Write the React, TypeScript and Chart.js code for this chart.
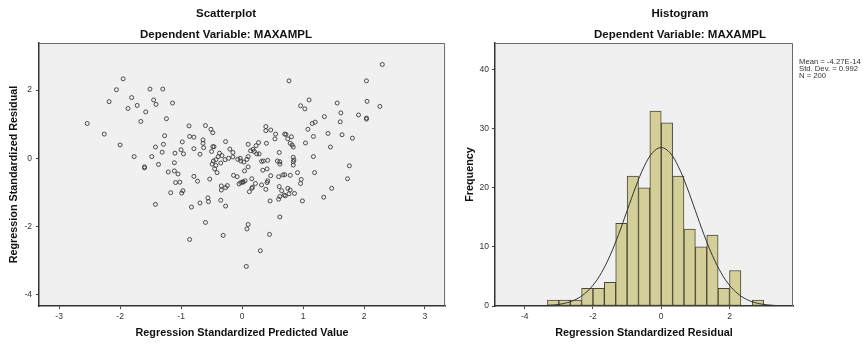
import { useEffect, useRef } from "react";
import { Chart, registerables } from "chart.js";

Chart.register(...registerables);

// ---------- Scatterplot data (Regression Standardized Predicted Value vs Residual) ----------
const scatterPredicted = [
  -1.95, -2.06, -1.51, -1.30, -1.81, -2.18, -1.45, -1.41, -1.14, -1.87,
  -1.72, -1.58, 0.77, 2.30, 2.04, 1.10, 0.96, 1.03, 1.56, 2.05,
  2.26, 1.35, 1.62, 1.91, 2.04, 2.04, -1.24, -1.66, -2.54, -2.26,
  -2.00, -1.77, -1.60, -1.60, -1.42, -1.29, -1.31, -1.27, -1.48, -1.37,
  -1.21, -1.11, -1.11, -1.05, -1.10, -0.98, -1.00, -0.96, -1.09, -1.02,
  -1.17, -0.99, -0.97, -1.42, -0.87, -0.86, -0.79, -0.79, -0.69, -0.64,
  -0.64, -0.60, -0.51, -0.48, -0.48, -0.46, -0.63, -0.50, -0.49, -0.43,
  -0.45, -0.41, -0.37, -0.35, -0.27, -0.20, -0.15, -0.39, -0.33, -0.47,
  -0.43, -0.28, -0.22, -0.79, -0.73, -0.53, -0.34, -0.34, -0.27, -0.24,
  -0.56, -0.55, -0.69, -0.83, -0.35, -0.27, -0.60, -0.86, -0.31, -0.03,
  -0.02, 0.10, 0.14, 0.10, 0.27, 0.23, 0.20, 0.24, 0.28, 0.40,
  0.39, 0.39, 0.47, 0.55, 0.54, 0.70, 0.61, 0.35, 0.42, 0.58,
  0.62, -0.15, -0.07, 0.03, 0.08, 0.18, 0.10, 0.04, 0.01, 0.05,
  0.16, 0.22, 0.12, 0.17, 0.32, 0.39, 0.41, 0.42, 0.34, 0.41,
  0.47, -0.14, -0.08, -0.05, -0.02, 0.02, 0.46, 0.62, 0.10, 0.08,
  0.45, 0.30, 0.07, 0.60, 0.62, 0.69, 0.65, 0.61, 0.60, 0.67,
  0.62, 0.70, 0.79, 0.91, 0.97, 0.96, 0.75, 0.79, 0.71, 0.77,
  0.86, 0.99, 0.84, 0.84, 0.84, 0.85, 0.72, 0.81, 0.75, 0.79,
  0.82, 0.84, 1.20, 1.15, 1.61, 1.08, 1.41, 1.64, 1.81, 1.17,
  1.04, 1.45, 1.17, 1.76, 1.73, 1.47, 1.34, 1.19, 0.16, 0.32,
];
const scatterResidual = [
  2.33, 2.01, 2.03, 2.03, 1.78, 1.66, 1.71, 1.58, 1.62, 1.46,
  1.55, 1.36, 2.27, 2.75, 2.27, 1.71, 1.54, 1.45, 1.62, 1.67,
  1.52, 1.22, 1.33, 1.27, 1.18, 1.15, 1.16, 1.08, 1.02, 0.71,
  0.39, 0.05, -0.25, -0.28, 0.33, 0.41, 0.18, 0.66, 0.05, -0.18,
  -0.40, -0.13, -0.37, -0.46, 0.15, 0.48, 0.25, 0.13, -0.71, -0.70,
  -1.01, -1.02, -0.95, -1.35, 0.95, 0.64, 0.62, 0.28, 0.12, 0.44,
  0.54, 0.96, 0.85, 0.75, 0.34, 0.34, 0.31, 0.20, -0.17, -0.21,
  -0.31, -0.42, 0.15, -0.14, 0.49, 0.27, 0.17, 0.05, 0.08, -0.08,
  -0.04, -0.04, 0.00, -0.53, -0.67, -0.61, -0.81, -0.93, -0.86, -0.80,
  -1.16, -1.27, -1.31, -1.43, -1.23, -1.40, -1.88, -2.38, -2.26, 0.00,
  -0.08, 0.05, 0.22, 0.41, 0.46, 0.37, 0.20, 0.13, 0.13, 0.44,
  0.93, 0.81, 0.83, 0.71, 0.57, 0.71, 0.17, -0.08, -0.06, -0.08,
  -0.10, 0.04, -0.03, -0.11, -0.03, 0.26, -0.25, -0.37, -0.69, -0.66,
  -0.60, -0.74, -0.98, -0.85, -0.78, -0.91, -0.71, -0.66, -0.35, -0.31,
  -0.51, -0.50, -0.54, -0.75, -0.71, -0.70, -1.25, -1.72, -1.94, -2.07,
  -2.23, -2.71, -3.17, -1.20, -1.12, -1.08, -0.95, -0.83, -0.54, -0.49,
  -0.17, -0.48, -0.50, -0.42, -0.62, -0.74, -0.88, -0.93, -1.10, -1.04,
  -1.03, -1.25, -0.20, -0.10, 0.03, -0.05, 0.70, 0.63, 0.57, 0.44,
  0.39, 0.33, 1.06, 1.02, 1.07, 0.85, 0.73, 0.69, 0.59, 0.64,
  0.45, 0.33, 0.05, -0.22, -0.60, -0.88, -1.14, -0.42, -0.88, -0.09,
];
const scatterXTicks = [-3, -2, -1, 0, 1, 2, 3];
const scatterYTicks = [-4, -2, 0, 2];

// ---------- Histogram data (Regression Standardized Residual) ----------
const binCenters = [
  -3.167, -2.833, -2.5, -2.167, -1.833, -1.5, -1.167, -0.833, -0.5, -0.167,
  0.167, 0.5, 0.833, 1.167, 1.5, 1.833, 2.167, 2.5, 2.833,
];
const binCounts = [1, 1, 1, 3, 3, 4, 14, 22, 20, 33, 31, 22, 13, 10, 12, 3, 6, 0, 1];
const curveX = [
  -4.5, -4.25, -4.0, -3.75, -3.5, -3.25, -3.0, -2.75, -2.5, -2.25, -2.0, -1.75,
  -1.5, -1.25, -1.0, -0.75, -0.5, -0.25, 0, 0.25, 0.5, 0.75, 1.0, 1.25, 1.5,
  1.75, 2.0, 2.25, 2.5, 2.75, 3.0, 3.25, 3.5, 3.75,
];
const curveY = [
  0.0, 0.0, 0.01, 0.02, 0.05, 0.13, 0.28, 0.57, 1.12, 2.05, 3.51, 5.65,
  8.54, 12.11, 16.13, 20.14, 23.6, 25.96, 26.8, 25.96, 23.6, 20.14, 16.13, 12.11, 8.54,
  5.65, 3.51, 2.05, 1.12, 0.57, 0.28, 0.13, 0.05, 0.02,
];
const histXTicks = [-4, -2, 0, 2];
const histYTicks = [0, 10, 20, 30, 40];
const statsLines = ["Mean = -4.27E-14", "Std. Dev. = 0.992", "N = 200"];

const FAMILY = '"Liberation Sans", Arial, Helvetica, sans-serif';
Chart.defaults.font.family = FAMILY;

const panelPlugin = {
  id: "panel",
  beforeDraw(chart: any) {
    const { ctx, chartArea: a } = chart;
    ctx.save();
    ctx.fillStyle = "#f0f0f0";
    ctx.fillRect(a.left, a.top, a.right - a.left, a.bottom - a.top);
    ctx.restore();
  },
  afterDraw(chart: any, _args: any, opts: any) {
    const { ctx, chartArea: a } = chart;
    ctx.save();
    ctx.strokeStyle = "#6a6a6a";
    ctx.lineWidth = 1;
    ctx.beginPath();
    ctx.moveTo(a.left, a.top + 0.5);
    ctx.lineTo(a.right - 0.5, a.top + 0.5);
    ctx.lineTo(a.right - 0.5, a.bottom);
    ctx.stroke();

    ctx.fillStyle = "#111";
    ctx.textAlign = "center";
    ctx.textBaseline = "middle";
    ctx.font = `bold 11.5px ${FAMILY}`;
    ctx.fillText(opts.title, opts.titleX, 14);
    ctx.fillText(opts.subtitle, opts.titleX, 35);

    if (opts.stats) {
      ctx.font = `7.7px ${FAMILY}`;
      ctx.textAlign = "left";
      ctx.fillStyle = "#333";
      opts.stats.forEach((line: string, i: number) => {
        ctx.fillText(line, a.right + 6, 62.3 + i * 7);
      });
    }
    ctx.restore();
  },
};

function axisCommon(tickPadding: number) {
  return {
    grid: { drawOnChartArea: false, drawTicks: true, tickLength: 3, color: "#444", lineWidth: 1, offset: false },
    border: { display: true, color: "#333", width: 1.5 },
    ticks: { font: { size: 8.5 }, color: "#333", padding: tickPadding, callback: (v: any) => String(v) },
  };
}

function axisTitle(text: string, padding: any) {
  return { display: true, text, color: "#111", font: { size: 10.8, weight: "bold" as const }, padding };
}

export default function App() {
  const sRef = useRef<HTMLCanvasElement>(null);
  const hRef = useRef<HTMLCanvasElement>(null);

  useEffect(() => {
    const scatter = new Chart(sRef.current as HTMLCanvasElement, {
      type: "scatter",
      data: {
        datasets: [
          {
            data: scatterPredicted.map((x, i) => ({ x, y: scatterResidual[i] })),
            pointRadius: 2,
            pointBorderWidth: 0.9,
            borderColor: "#3a3a3a",
            backgroundColor: "rgba(0,0,0,0)",
          },
        ],
      },
      options: {
        responsive: false,
        animation: false,
        layout: { padding: { top: 43, right: 2, bottom: 0, left: 0 } },
        plugins: {
          legend: { display: false },
          tooltip: { enabled: false },
          panel: { title: "Scatterplot", subtitle: "Dependent Variable: MAXAMPL", titleX: 226 },
        } as any,
        scales: {
          x: {
            type: "linear",
            min: -3.33,
            max: 3.33,
            offset: false,
            afterBuildTicks: (s: any) => { s.ticks = scatterXTicks.map((v) => ({ value: v })); },
            afterFit: (s: any) => { s.height = 38; },
            ...axisCommon(3),
            title: axisTitle("Regression Standardized Predicted Value", { top: 0, bottom: 4.8 }),
          } as any,
          y: {
            type: "linear",
            min: -4.33,
            max: 3.38,
            afterBuildTicks: (s: any) => { s.ticks = scatterYTicks.map((v) => ({ value: v })); },
            afterFit: (s: any) => { s.width = 39; },
            ...axisCommon(4),
            title: axisTitle("Regression Standardized Residual", { top: 7.5, bottom: 0 }),
          } as any,
        },
      },
      plugins: [panelPlugin],
    });

    const hist = new Chart(hRef.current as HTMLCanvasElement, {
      type: "bar",
      data: {
        datasets: [
          {
            type: "line",
            data: curveX.map((x, i) => ({ x, y: curveY[i] })),
            borderColor: "#333",
            borderWidth: 1,
            pointRadius: 0,
            tension: 0.4,
            fill: false,
            order: 0,
          } as any,
          {
            type: "bar",
            data: binCenters.map((x, i) => ({ x, y: binCounts[i] })),
            backgroundColor: "#d4cf98",
            borderColor: "#4a4838",
            borderWidth: 1,
            borderSkipped: false,
            barPercentage: 1,
            categoryPercentage: 1,
            order: 1,
          } as any,
        ],
      },
      options: {
        responsive: false,
        animation: false,
        layout: { padding: { top: 43, right: 70, bottom: 0, left: 0 } },
        plugins: {
          legend: { display: false },
          tooltip: { enabled: false },
          panel: { title: "Histogram", subtitle: "Dependent Variable: MAXAMPL", titleX: 230, stats: statsLines },
        } as any,
        scales: {
          x: {
            type: "linear",
            min: -4.87,
            max: 3.86,
            offset: false,
            afterBuildTicks: (s: any) => { s.ticks = histXTicks.map((v) => ({ value: v })); },
            afterFit: (s: any) => { s.height = 38; },
            ...axisCommon(3),
            title: axisTitle("Regression Standardized Residual", { top: 0, bottom: 4.8 }),
          } as any,
          y: {
            type: "linear",
            min: 0,
            max: 44.5,
            afterBuildTicks: (s: any) => { s.ticks = histYTicks.map((v) => ({ value: v })); },
            afterFit: (s: any) => { s.width = 45; },
            ...axisCommon(3),
            title: axisTitle("Frequency", { top: 13.5, bottom: 0 }),
          } as any,
        },
      },
      plugins: [panelPlugin],
    });

    return () => {
      scatter.destroy();
      hist.destroy();
    };
  }, []);

  return (
    <div style={{ position: "absolute", left: 0, top: 0, width: 863, height: 344, background: "#fff", overflow: "hidden" }}>
      <canvas ref={sRef} width={450} height={344} style={{ position: "absolute", left: 0, top: 0 }} />
      <canvas ref={hRef} width={413} height={344} style={{ position: "absolute", left: 450, top: 0 }} />
    </div>
  );
}
